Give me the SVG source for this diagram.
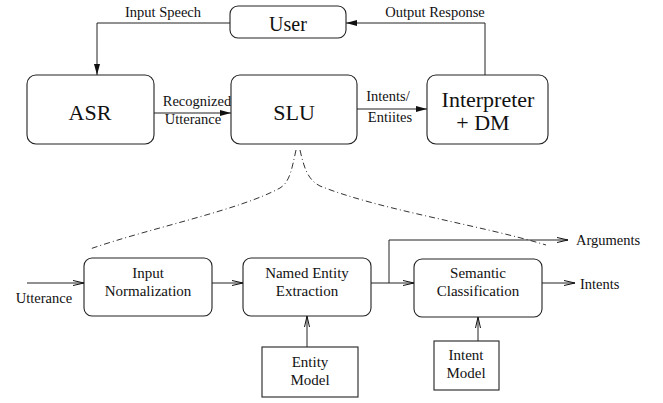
<svg xmlns="http://www.w3.org/2000/svg" width="663" height="403" viewBox="0 0 663 403">
<style>
.box{fill:#fff;stroke:#222;stroke-width:1.1}
.ln{fill:none;stroke:#222;stroke-width:1}
.dd{fill:none;stroke:#333;stroke-width:1;stroke-dasharray:6 3 1 3}
text{font-family:"Liberation Serif","DejaVu Serif","Times New Roman",serif;fill:#111;text-anchor:middle}
.big{font-size:22px}
.med{font-size:15px}
.sm{font-size:14.5px}
</style>
<defs>
<marker id="fa" markerWidth="12" markerHeight="8" refX="11" refY="4" orient="auto" markerUnits="userSpaceOnUse">
<path d="M0,1 L11,4 L0,7 z" fill="#111"/>
</marker>
<marker id="oa" markerWidth="12" markerHeight="8" refX="11" refY="4" orient="auto" markerUnits="userSpaceOnUse">
<path d="M0,1.5 L11,4 L0,6.5" fill="none" stroke="#111" stroke-width="1"/>
</marker>
</defs>
<g id="connectors" font-family="Liberation Serif, serif">
<path class="ln" d="M230,23 H97 V75" marker-end="url(#fa)"/>
<path class="ln" d="M485,75 V23 H346" marker-end="url(#fa)"/>
<path class="ln" d="M154,113 H231" marker-end="url(#fa)"/>
<path class="ln" d="M357,109 H427" marker-end="url(#fa)"/>
<path class="dd" d="M296,150 C292,168 290,182 280,188 C240,210 150,228 90,249"/>
<path class="dd" d="M300,150 C304,168 308,180 320,186 C380,210 480,225 546,245"/>
<path class="ln" d="M27,283 H84" marker-end="url(#oa)"/>
<path class="ln" d="M212,283 H243" marker-end="url(#oa)"/>
<path class="ln" d="M371,283 H414" marker-end="url(#oa)"/>
<path class="ln" d="M389,283 V240 H568" marker-end="url(#oa)"/>
<path class="ln" d="M542,283 H575" marker-end="url(#oa)"/>
<path class="ln" d="M307,347 V316" marker-end="url(#oa)"/>
<path class="ln" d="M478,341 V317" marker-end="url(#oa)"/>
<text class="sm" x="163" y="17">Input Speech</text>
<text class="sm" x="435" y="17">Output Response</text>
<text class="sm" x="197" y="106">Recognized</text>
<text class="sm" x="193" y="124">Utterance</text>
<text class="sm" x="388" y="101">Intents/</text>
<text class="sm" x="390" y="122">Entiites</text>
<text class="sm" x="44" y="303">Utterance</text>
<text class="sm" x="576" y="245" style="text-anchor:start">Arguments</text>
<text class="sm" x="580" y="289" style="text-anchor:start">Intents</text>
</g>
<g id="user"><rect class="box" x="230" y="6" width="116" height="32" rx="8"/><text class="big" x="288" y="31" style="font-size:20px">User</text></g>
<g id="asr"><rect class="box" x="27" y="75" width="127" height="69" rx="9"/><text class="big" x="90" y="120">ASR</text></g>
<g id="slu"><rect class="box" x="231" y="75" width="126" height="69" rx="9"/><text class="big" x="294" y="120">SLU</text></g>
<g id="interp"><rect class="box" x="427" y="75" width="121" height="69" rx="9"/><text class="big" x="488" y="107">Interpreter</text><text class="big" x="483" y="130">+ DM</text></g>
<g id="norm"><rect class="box" x="84" y="258" width="128" height="58" rx="8"/><text class="med" x="148" y="278">Input</text><text class="med" x="148" y="296">Normalization</text></g>
<g id="ner"><rect class="box" x="243" y="258" width="128" height="58" rx="8"/><text class="med" x="307" y="278">Named Entity</text><text class="med" x="307" y="296">Extraction</text></g>
<g id="sem"><rect class="box" x="414" y="259" width="128" height="58" rx="8"/><text class="med" x="478" y="278">Semantic</text><text class="med" x="478" y="296">Classification</text></g>
<g id="entmodel"><rect class="box" x="262" y="347" width="96" height="50"/><text class="med" x="310" y="367">Entity</text><text class="med" x="310" y="385">Model</text></g>
<g id="intmodel"><rect class="box" x="434" y="341" width="65" height="49"/><text class="med" x="466" y="360">Intent</text><text class="med" x="466" y="378">Model</text></g>
</svg>
